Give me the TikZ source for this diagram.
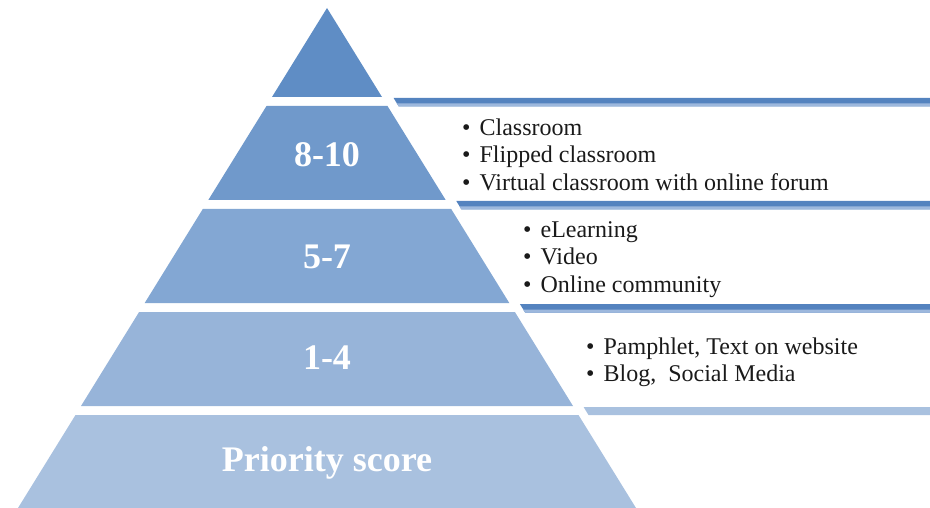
\documentclass[tikz,border=0pt]{standalone}
\usepackage{fontspec}
\setmainfont{Liberation Serif}

\definecolor{tierA}{HTML}{5F8DC5}
\definecolor{tierB}{HTML}{7099CB}
\definecolor{tierC}{HTML}{83A7D3}
\definecolor{tierD}{HTML}{97B4D9}
\definecolor{tierE}{HTML}{A9C1DF}
\definecolor{barDark}{HTML}{5483BF}
\definecolor{barLight}{HTML}{9DB8DD}
\definecolor{ink}{HTML}{1A1A1A}

\tikzset{
  tier/.style={text=white, font=\bfseries\fontsize{36}{40}\selectfont, inner sep=0pt},
  items/.style={text=ink, align=left, anchor=west, inner sep=0pt,
    font=\fontsize{24}{27.5}\selectfont}
}
\newcommand{\itm}{\textbullet\hspace{9pt}}

\begin{document}
\begin{tikzpicture}[x=1pt,y=-1pt]
\useasboundingbox (0,0) rectangle (930,508);

% the pyramid, top to bottom
\fill[tierA] (327,8) -- (382,97) -- (272,97) -- cycle;
\fill[tierB] (266.5,106) -- (387.5,106) -- (445.7,200) -- (208.3,200) -- cycle;
\fill[tierC] (202.8,209) -- (451.2,209) -- (509.3,303) -- (144.7,303) -- cycle;
\fill[tierD] (139.1,312) -- (514.9,312) -- (573,406) -- (81,406) -- cycle;
\fill[tierE] (75.5,415) -- (578.5,415) -- (636,508) -- (18,508) -- cycle;

% bars running off to the right (dark band, lighter lower edge)
\fill[barDark] (393.6,98) -- (930,98) -- (930,106.5) -- (398.8,106.5) -- cycle;
\fill[barLight] (396.7,103.5) -- (930,103.5) -- (930,106.5) -- (398.8,106.5) -- cycle;
\fill[barDark] (456.3,201) -- (930,201) -- (930,209.5) -- (461.5,209.5) -- cycle;
\fill[barLight] (459.4,206.5) -- (930,206.5) -- (930,209.5) -- (461.5,209.5) -- cycle;
\fill[barDark] (519.9,304) -- (930,304) -- (930,312.5) -- (525.1,312.5) -- cycle;
\fill[barLight] (523,309.5) -- (930,309.5) -- (930,312.5) -- (525.1,312.5) -- cycle;
\fill[tierE] (583.6,407) -- (930,407) -- (930,415) -- (588.5,415) -- cycle;

% labels on the levels
\node[tier] (hi) at (327,155) {8-10};
\node[tier] (mid) at (327,257) {5-7};
\node[tier] (lo) at (327,358) {1-4};
\node[tier, anchor=base] (score) at (327,471) {Priority score};

% what goes with each score
\node[items] (listhi) at (462,154.5) {\itm Classroom\\ \itm Flipped classroom\\ \itm Virtual classroom with online forum};
\node[items] (listmid) at (523,259.5) {\itm eLearning\\ \itm Video\\ \itm Online community};
\node[items] (listlo) at (586,362.5) {\itm Pamphlet, Text on website\\ \itm Blog,\ \ Social Media};

\end{tikzpicture}
\end{document}
